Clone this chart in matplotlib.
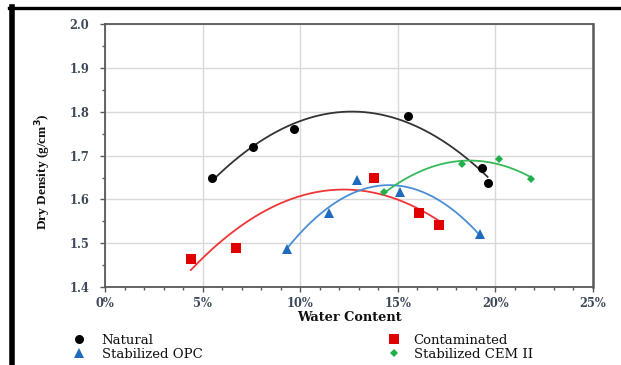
import numpy as np
import matplotlib
matplotlib.use("Agg")
import matplotlib.pyplot as plt
from matplotlib.ticker import MultipleLocator, FuncFormatter
from matplotlib.lines import Line2D

# ---- data (water content %, dry density g/cm3) ----
natural_x = [5.5, 7.6, 9.7, 15.5, 19.3, 19.6]
natural_y = [1.65, 1.72, 1.76, 1.79, 1.672, 1.638]

contam_x = [4.4, 6.7, 13.8, 16.1, 17.1]
contam_y = [1.464, 1.49, 1.65, 1.569, 1.541]

opc_x = [9.3, 11.5, 12.9, 15.1, 19.2]
opc_y = [1.487, 1.570, 1.644, 1.616, 1.521]

cem_x = [14.3, 18.3, 20.2, 21.8]
cem_y = [1.616, 1.680, 1.692, 1.646]

labels = ["Natural", "Contaminated", "Stabilized OPC", "Stabilized CEM II"]

xticks = [0, 5, 10, 15, 20, 25]
yticks = [1.4, 1.5, 1.6, 1.7, 1.8, 1.9, 2.0]

fig = plt.figure(figsize=(6.21, 3.65), dpi=100)
ax = fig.add_axes([105/621, 1-287/365, (593-105)/621, (287-24.3)/365])

series = [
    (natural_x, natural_y, "o", "black", "#333333", 6.5),
    (contam_x, contam_y, "s", "#e00000", "#ef3535", 6.5),
    (opc_x, opc_y, "^", "#1f6cbf", "#4a8ed6", 6.5),
    (cem_x, cem_y, "D", "#1fb04a", "#35b95a", 4.5),
]

handles = []
for (xs, ys, m, mc, lc, ms), lab in zip(series, labels):
    xs = np.array(xs); ys = np.array(ys)
    c = np.polyfit(xs, ys, 2)
    xx = np.linspace(xs.min(), xs.max(), 200)
    ax.plot(xx, np.polyval(c, xx), color=lc, lw=1.3, zorder=3)
    ax.plot(xs, ys, linestyle="none", marker=m, color=mc, markersize=ms,
            markeredgewidth=0, zorder=4)
    handles.append(Line2D([], [], linestyle="none", marker=m, color=mc,
                          markersize=ms, markeredgewidth=0, label=lab))

ax.set_xlim(0, 25)
ax.set_ylim(1.4, 2.0)
ax.set_xticks(xticks)
ax.set_yticks(yticks)
ax.xaxis.set_minor_locator(MultipleLocator(1))
ax.yaxis.set_minor_locator(MultipleLocator(0.05))
ax.xaxis.set_major_formatter(FuncFormatter(lambda v, p: f"{v:.0f}%"))
ax.yaxis.set_major_formatter(FuncFormatter(lambda v, p: f"{v:.1f}"))
ax.grid(True, which="major", color="#d9d9d9", lw=1.0, zorder=0)
ax.set_axisbelow(True)

tick_col = "#3d4858"
for lab in ax.get_xticklabels() + ax.get_yticklabels():
    lab.set_fontfamily("DejaVu Serif")
    lab.set_fontweight("bold")
    lab.set_fontsize(8.3)
    lab.set_color(tick_col)
ax.tick_params(which="both", direction="out", colors="#595959", labelcolor=tick_col)
ax.tick_params(which="major", length=3.5, width=1)
ax.tick_params(which="minor", length=2.5, width=1)
ax.tick_params(axis="x", pad=4)
ax.tick_params(axis="y", pad=8)

for s in ax.spines.values():
    s.set_color("#595959")
    s.set_linewidth(1.3)
ax.spines["right"].set_linewidth(1.8)

ax.set_xlabel("Water Content", fontfamily="DejaVu Serif", fontweight="bold",
              fontsize=9.3, color="#111111")
ax.xaxis.set_label_coords(0.5, -(311 - 287) / 262.7)
ax.set_ylabel("Dry Density (g/cm$^\\mathbf{3}$)", fontfamily="Liberation Serif",
              fontweight="bold", fontsize=9.6, color="#111111")
ax.yaxis.set_label_coords((53 - 105) / 488, 0.4377)

fs = 9.5
em = fs * 100 / 72
leg_kw = dict(frameon=False, prop={"family": "DejaVu Serif", "size": fs},
              labelspacing=0.05, borderpad=0, handlelength=1.0)
leg1 = fig.legend(handles=[handles[0], handles[2]], loc="upper left",
                  bbox_to_anchor=((72 - em / 2) / 621, 1 - 327.5 / 365),
                  handletextpad=(95 - 72 - em / 2) / em, **leg_kw)
leg2 = fig.legend(handles=[handles[1], handles[3]], loc="upper left",
                  bbox_to_anchor=((387 - em / 2) / 621, 1 - 327.5 / 365),
                  handletextpad=(407 - 387 - em / 2) / em, **leg_kw)
for lg in (leg1, leg2):
    for t in lg.get_texts():
        t.set_color("#111111")

# page border lines
fig.add_artist(Line2D([9/621, 1], [1-8.3/365, 1-8.3/365], color="black", lw=2.4,
                      transform=fig.transFigure))
fig.add_artist(Line2D([11.5/621, 11.5/621], [0, 1-7/365], color="black", lw=4,
                      transform=fig.transFigure))

fig.savefig("out.png", dpi=100)
